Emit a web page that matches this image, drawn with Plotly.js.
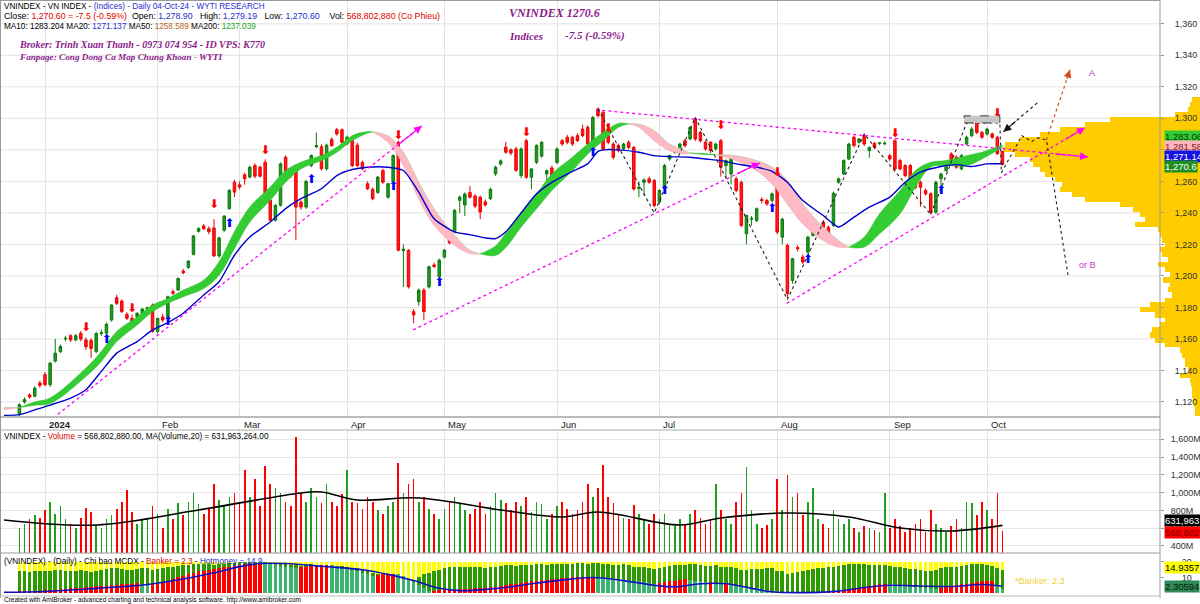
<!DOCTYPE html>
<html><head><meta charset="utf-8">
<script src="https://cdn.plot.ly/plotly-3.0.1.min.js"></script>
<style>html,body{margin:0;padding:0;background:#fff}#c{width:1200px;height:604px}</style>
</head><body><div id="c"></div><script>
// ---------------- DATA ----------------
const monthLabels = ['2024','Feb','Mar','Apr','May','Jun','Jul','Aug','Sep','Oct'];
const monthStart  = [5,27,43,64,83,105,125,148,170,189];

const openP = [1112.0,1120.0,1124.5,1123.6,1132.0,1137.3,1131.0,1146.0,1152.0,1160.0,
1162.1,1159.4,1163.6,1159.4,1159.0,1152.0,1163.5,1163.6,1172.0,1186.2,
1184.1,1175.6,1173.1,1174.0,1176.3,1177.0,1181.5,1164.7,1174.0,1174.0,
1190.0,1191.0,1203.0,1205.4,1213.6,1228.3,1231.7,1230.0,1230.4,1212.7,
1229.0,1242.7,1259.5,1257.8,1264.2,1262.7,1270.1,1269.0,1272.2,1248.0,
1235.3,1244.8,1275.3,1264.0,1266.9,1246.9,1243.7,1270.0,1282.0,1282.0,
1268.0,1286.5,1292.8,1292.8,1283.8,1286.0,1283.0,1272.0,1258.5,1255.0,
1253.0,1266.9,1250.0,1259.9,1284.8,1216.0,1216.3,1177.3,1183.6,1191.0,
1193.0,1207.0,1199.4,1212.0,1223.0,1228.0,1248.0,1245.0,1253.0,1250.7,
1250.0,1247.0,1249.0,1264.8,1271.0,1281.7,1280.0,1280.6,1263.7,1285.8,
1262.6,1272.1,1276.0,1264.7,1268.5,1272.0,1285.8,1288.0,1288.0,1289.0,
1293.2,1294.3,1283.7,1305.9,1303.9,1289.0,1283.7,1282.7,1280.6,1284.8,
1281.6,1255.5,1259.4,1261.6,1260.5,1246.8,1255.2,1274.2,1278.5,1281.6,
1285.8,1286.9,1299.6,1291.1,1284.8,1284.8,1280.6,1285.8,1270.0,1264.7,
1261.6,1259.4,1226.7,1236.0,1235.2,1248.5,1247.8,1247.8,1260.5,1224.6,
1219.3,1197.1,1218.0,1212.0,1215.1,1225.7,1228.8,1234.0,1230.9,1232.0,
1259.4,1264.7,1274.2,1288.0,1284.8,1289.0,1279.5,1284.2,1284.0,1283.8,
1276.3,1285.8,1273.2,1270.0,1270.0,1262.6,1259.4,1254.2,1252.1,1240.4,
1261.6,1266.8,1277.4,1275.3,1267.9,1283.7,1289.0,1297.5,1291.1,1290.1,
1290.1,1288.0,1278.9];
const highP = [1119.0,1123.0,1125.5,1130.0,1133.5,1139.0,1145.5,1160.0,1156.5,1162.0,
1163.0,1163.0,1165.0,1161.0,1160.5,1164.5,1166.0,1170.5,1182.0,1188.0,
1185.0,1177.0,1175.5,1176.8,1179.5,1180.5,1182.5,1173.5,1176.0,1187.5,
1191.5,1199.0,1204.5,1210.0,1226.0,1231.0,1233.0,1231.5,1236.0,1225.0,
1238.5,1255.0,1261.0,1260.0,1265.5,1270.0,1271.5,1270.0,1274.0,1249.0,
1245.5,1272.0,1276.5,1266.0,1268.0,1248.0,1261.0,1277.0,1291.0,1283.5,
1284.0,1288.0,1294.0,1293.5,1289.0,1287.5,1284.5,1273.0,1260.0,1256.0,
1263.5,1268.0,1259.0,1277.0,1286.0,1220.0,1217.0,1179.0,1192.0,1192.5,
1206.5,1208.5,1211.0,1217.0,1224.0,1242.5,1251.0,1253.0,1257.0,1252.0,
1251.0,1248.5,1256.0,1270.0,1274.0,1285.0,1281.0,1282.0,1281.5,1287.0,
1268.5,1283.5,1285.5,1267.5,1270.0,1281.5,1287.0,1289.5,1289.0,1290.5,
1296.0,1295.5,1301.5,1307.0,1305.0,1290.0,1285.0,1284.0,1284.5,1286.0,
1282.5,1260.0,1262.0,1263.0,1261.5,1255.0,1271.0,1277.0,1281.0,1284.5,
1287.0,1295.0,1300.8,1292.0,1286.0,1285.5,1284.5,1287.0,1274.0,1275.0,
1263.0,1260.5,1239.0,1238.0,1243.5,1250.0,1249.0,1253.0,1263.0,1237.0,
1220.5,1211.5,1219.5,1213.5,1225.5,1231.5,1231.5,1235.5,1232.0,1253.5,
1262.5,1274.0,1284.5,1289.0,1287.5,1290.0,1282.0,1285.0,1285.0,1285.5,
1277.5,1287.0,1274.5,1271.0,1271.0,1263.5,1260.5,1255.5,1253.0,1260.5,
1265.5,1272.0,1278.5,1276.5,1277.5,1289.0,1294.5,1298.5,1292.0,1294.0,
1291.0,1289.0,1279.19];
const lowP = [1110.5,1119.0,1122.0,1123.0,1129.0,1130.0,1129.5,1145.0,1151.0,1158.5,
1158.0,1158.5,1158.5,1153.0,1148.0,1151.0,1162.0,1162.5,1171.0,1181.5,
1176.5,1172.0,1170.0,1172.5,1175.5,1176.0,1164.0,1163.5,1170.5,1173.0,
1188.0,1190.5,1201.0,1204.5,1213.0,1227.5,1229.0,1226.5,1212.0,1211.5,
1228.0,1242.0,1250.0,1255.0,1258.0,1262.0,1262.0,1262.5,1247.0,1234.5,
1234.5,1244.0,1262.5,1262.0,1222.6,1242.0,1242.5,1269.0,1281.0,1267.0,
1267.0,1282.0,1289.0,1284.0,1283.0,1269.0,1269.0,1267.0,1254.5,1248.0,
1252.0,1258.5,1249.0,1259.0,1215.5,1193.0,1192.0,1170.0,1181.0,1172.0,
1192.0,1205.0,1198.0,1211.0,1220.0,1227.0,1240.0,1238.0,1249.0,1243.0,
1236.0,1244.0,1248.0,1263.5,1270.0,1277.5,1276.5,1266.0,1262.0,1261.5,
1255.0,1271.0,1275.0,1255.0,1260.0,1271.0,1282.5,1283.5,1282.5,1285.0,
1288.0,1282.5,1283.0,1300.5,1279.5,1283.5,1274.0,1278.5,1279.5,1280.5,
1254.0,1250.0,1251.0,1258.5,1243.5,1245.5,1254.5,1273.0,1277.5,1280.5,
1281.5,1286.0,1285.5,1284.5,1279.5,1278.0,1279.5,1263.0,1262.0,1258.0,
1253.0,1231.0,1220.0,1232.0,1234.0,1246.0,1244.5,1246.5,1226.5,1220.0,
1186.0,1195.0,1215.5,1207.5,1214.0,1225.0,1228.0,1230.0,1222.5,1231.0,
1258.5,1264.0,1273.5,1281.5,1284.0,1282.5,1275.0,1280.5,1283.0,1283.0,
1273.0,1266.5,1267.0,1262.5,1256.0,1255.0,1244.0,1251.0,1239.0,1239.5,
1257.0,1266.0,1272.0,1268.0,1267.0,1283.0,1288.0,1290.0,1287.0,1289.0,
1287.0,1277.0,1270.6];
const closeP = [1118.3,1121.5,1123.2,1128.8,1130.5,1131.0,1144.6,1151.0,1155.2,1160.4,
1159.4,1162.1,1160.0,1155.0,1154.0,1163.4,1164.0,1169.3,1181.5,1182.6,
1177.3,1173.1,1171.0,1176.3,1179.0,1179.8,1164.7,1173.0,1172.0,1186.8,
1189.0,1198.4,1202.0,1209.4,1225.4,1230.0,1230.0,1228.0,1212.7,1224.1,
1238.0,1254.3,1253.2,1256.4,1261.6,1269.0,1263.3,1263.3,1247.9,1235.3,
1244.8,1271.1,1263.7,1263.7,1243.7,1243.7,1259.9,1276.4,1282.7,1268.0,
1283.0,1282.7,1290.1,1284.8,1288.0,1270.0,1270.0,1268.0,1255.3,1249.0,
1262.7,1259.5,1258.5,1276.4,1216.3,1217.0,1193.1,1175.2,1191.0,1177.3,
1205.8,1206.0,1210.0,1216.3,1221.0,1241.6,1250.0,1252.0,1250.0,1244.3,
1240.6,1245.0,1254.9,1269.0,1273.0,1278.5,1278.0,1267.0,1280.6,1262.6,
1267.9,1282.7,1284.8,1266.8,1260.9,1280.6,1283.7,1284.8,1283.7,1285.8,
1289.0,1283.7,1300.6,1301.7,1280.6,1284.8,1275.3,1279.5,1283.7,1281.6,
1255.2,1256.3,1260.9,1259.4,1244.7,1254.2,1270.0,1276.3,1280.6,1283.7,
1282.7,1294.3,1286.9,1285.8,1280.6,1279.5,1283.7,1269.0,1273.2,1274.2,
1254.2,1232.0,1238.3,1236.5,1242.6,1247.8,1245.7,1252.1,1227.8,1236.0,
1188.7,1210.9,1217.2,1208.8,1224.6,1230.9,1230.9,1230.9,1223.5,1252.5,
1261.6,1273.2,1283.7,1282.7,1286.9,1283.7,1281.6,1281.6,1284.4,1284.2,
1274.2,1267.9,1267.9,1263.7,1257.3,1256.3,1256.3,1252.1,1240.4,1259.4,
1264.7,1271.1,1273.2,1269.0,1276.3,1288.0,1293.2,1291.1,1288.0,1293.2,
1288.0,1277.5,1270.6];

// MA20 (blue)
const ma20Idx = [-3,0,3,6,10,13,16,19,23,26,29,32,36,39,42,45,49,52,55,59,62,65,68,72,75,78,81,85,88,91,93,95,98,101,104,108,111,113,114,117,121,124,127,131,134,137,140,144,147,150,153,157,160,163,166,170,173,176,180,183,186,189,192];
const ma20Val = [1111.5,1112,1115,1118,1122.5,1127.8,1139.4,1151,1158.3,1165.7,1170.4,1176.3,1187.9,1196.3,1213.1,1224.7,1234.2,1242.7,1249,1255.3,1263.7,1267.5,1269,1269,1266.9,1253.2,1236.3,1227.9,1226.2,1224.1,1223.7,1228,1240,1252.1,1259.4,1266.4,1271.1,1279,1280,1280,1278.5,1276.3,1275.7,1275.3,1274.2,1273.2,1271.1,1269,1266.4,1259.4,1247.8,1238.3,1231,1237.3,1243.6,1250,1259.4,1265.8,1269.4,1270.6,1269.4,1271.1,1271.14];

// Band (two averages)
const bandIdx  = [-3,0,3,6,13,16,19,23,26,29,32,36,39,42,45,49,52,55,59,62,65,68,69,72,75,78,81,85,88,90,93,95,98,101,104,108,111,114,117,119,121,124,127,130,131,134,136,140,144,147,150,153,157,160,162,165,168,172,175,178,181,185,188,192];
const bandFast = [1115,1116.5,1120,1122.5,1141.5,1152,1164.7,1174,1181.5,1185.7,1191,1197.3,1209,1228,1243.7,1256.4,1266.9,1272.2,1276.4,1281.7,1289,1291.6,1291.4,1284.8,1270.1,1249,1232.1,1219.5,1214.2,1214,1219,1227,1240.4,1252,1264.7,1275.3,1283.7,1291,1296.8,1296.5,1294.3,1285.8,1279.5,1277.4,1278,1277.6,1277,1273.2,1266.8,1258.4,1245.7,1233,1222.5,1218.3,1218.3,1224.6,1239.4,1254.2,1266.8,1272.1,1273.2,1276.3,1278.5,1283.06];
const bandSlow = [1116.5,1116.5,1118,1119,1136.2,1145.7,1158.3,1168.9,1177.3,1182.6,1186.8,1192,1200.5,1217.4,1234.2,1248,1259.5,1268,1273.2,1278.5,1285.9,1290.6,1291.4,1289,1278.5,1259.5,1242.7,1225.8,1216.3,1214,1213,1218,1231,1242.6,1254.2,1266.8,1277.4,1285.8,1294.3,1296.5,1296.4,1292.2,1283.7,1279.5,1278,1277.0,1277,1276.3,1273.2,1269,1260.5,1245.7,1231,1222.5,1218.3,1218.3,1226.7,1239.4,1256.3,1269,1270,1270,1274.2,1281.58];

// Trend lines (index, price)
const trendX = [[6.6,78.6],[76.9,144.6],[112.7,208.7],[149.9,208.1]];
const trendY = [[1109.8,1295.2],[1165.7,1271.7],[1305.4,1275.5],[1182.6,1294.0]];
const waveX = [113,124,132,150,165,178,185,191.5,191.8,195.8,197.7,198.9,200.6,204.8];
const waveY = [1306,1240,1300.6,1185,1290,1239,1297,1297,1265.5,1289,1285.3,1287.6,1286.3,1200.6];
const waveAX = [200.6,205.2];
const waveAY = [1286.3,1330.8];
const pointerX = [198.8,192.2];
const pointerY = [1309.8,1291.5];
const boxX = [184.5,191.5];
const boxY = [1297.1,1301.6];

// Signals
const sigDnIdx = [13,22,38,48,74,99,115,137,148,171,191];
const sigDnVal = [1166.8,1179,1245.2,1279,1289,1290.5,1293,1295.4,1265.5,1290,1303];
const sigUpIdx = [17,29,41,57,73,82,112,126,147,154,180];
const sigUpVal = [1159.4,1170.6,1233.2,1261,1256.4,1195.2,1277.8,1254.2,1242.6,1209.8,1254.2];

// Volume profile (price level, relative volume)
const profPrice = [1311.7,1308.6,1305.4,1302.2,1299.0,1295.9,1292.7,1289.5,1286.3,1283.2,1280.0,1276.8,1273.6,1270.5,1267.3,1264.1,1260.9,1257.8,1254.6,1251.4,1248.2,1245.1,1241.9,1238.7,1235.5,1232.4,1229.2,1226.0,1222.8,1219.7,1216.5,1213.3,1210.1,1207.0,1203.8,1200.6,1197.4,1194.3,1191.1,1187.9,1184.7,1181.6,1178.4,1175.2,1172.0,1168.9,1165.7,1162.5,1159.3,1156.2,1153.0,1149.8,1146.6,1143.5,1140.3,1137.1,1133.9,1130.8,1127.6,1124.4,1121.2,1118.1,1114.9,1111.7];
const profVol = [8,10,12,25,90,115,140,160,180,195,197,185,170,167,160,155,145,138,140,128,115,80,67,60,55,65,42,40,38,35,40,38,32,42,35,30,37,30,32,28,35,50,60,45,35,40,48,50,45,35,20,18,15,15,12,20,10,9,8,8,7,6,5,5];

// Volume (millions)
const volM = [600,650,700,750,720,
800,900,760,850,700,650,600,720,830,780,640,600,700,750,820,900,1030,780,650,700,720,850,
760,600,820,700,880,750,900,1000,870,760,820,1100,920,860,950,1000,
900,1250,950,1150,850,1300,1100,1050,1000,900,850,1630,1000,900,1050,950,880,1100,900,850,980,
1250,900,880,820,950,900,800,760,850,900,1330,1000,1100,1150,900,950,820,760,700,
820,900,950,870,800,760,820,900,760,850,1000,920,880,800,900,850,950,780,900,870,700,760,
850,900,820,760,800,900,1100,950,1050,1310,950,880,760,720,700,860,760,700,650,760,
700,760,650,620,700,650,760,800,720,650,700,1100,800,700,650,900,1000,1290,800,650,600,640,700,
1150,800,1200,950,1000,750,900,1050,700,650,600,800,700,650,700,600,560,620,600,580,560,1000,
600,700,620,560,600,650,700,560,800,650,600,560,620,700,600,900,880,750,900,
800,700,1000,568.8];
const volMaIdx = [-3,15,35,55,59,66,78,94,106,113,129,137,150,162,172,182,192];
const volMaVal = [692,636,805,996,1007,917,940,805,726,782,636,715,771,726,602,569,632];

// MCDX
const banker = [1,1,1.2,1.5,1.5,1.8,2,2.2,2.5,2.8,
3,3.2,3.5,3.8,4,4.2,4.5,4.8,5,5.2,
5.5,5.8,6,6.2,5.8,5.5,5.5,6,7,8,
9,10,11,12,13,14,14.5,15,15.5,16,
16.5,17,17.5,18,18.5,19,19,19.2,19,18.5,
18,17.5,17,16.5,16,16.5,17,17.5,18,18,
18.2,18,17.5,17,16,15,14,13,12,11,
11.5,12,12,12.5,12,11,9,7,5,3,
1.5,1.5,1.8,2,2,2.2,2.5,2.5,2.8,3,
3,3.5,4,4,4.5,5,5.5,6,6.5,7,
7.5,8,8.5,8.5,9,9,9.5,9.5,10,10,
10.5,10.5,10.5,10.2,10,9.8,9.5,9.2,9,8.5,
8,7.5,7,6.5,6,6.5,7,7.5,8,8.5,
9,8.5,8,7.5,7,7,6.5,6,6,5.5,
5,4.5,4,3.5,3,2.5,2,1.5,1,0.8,
0.5,0.5,0.5,0.5,0.5,0.6,0.6,0.8,1,1.2,
1.5,2,2.5,3,3.5,4,4.5,5,5.5,6,
5.8,5.5,5,4.5,4,3.8,3.5,3.2,3,2.8,
3.2,4,4.5,5,5.5,6,6.5,7,7.5,7.7,
7.7,4.5,2.30594];
const hotMoney = [14,14,13.5,14,14.5,14,14,15,15,14.5,
14,14.5,15,14,13.5,14,15,15.5,16,16,
15.5,15,15,15.5,16,16,15,15.5,16,17,
17,17.5,18,18,18.5,19,19,18.5,18,18.5,
19,19.5,19.5,20,20,20,20,20,20,19.5,
19,19,18.5,18,18,17.5,18,18.5,18,17.5,
17.5,17,17,17.5,17,16,16,15.5,14,13,
12,11,10,9.5,8,7,7,8,10,12,
13,14,15,16,16.5,17,17,17,17,16.5,
16.5,16,16.5,17,17.5,18,18,17.5,18,18,
18,18.5,18.5,18,18.5,19,19,19,19,19.5,
19.5,19,19.5,19.5,19,18.5,18,18,18.5,18,
17,16.5,16.5,16,15.5,16,17,17.5,18,18,
18,18.5,18.5,18,17.5,17.5,18,17,17,17,
16,15,15,15.5,15.5,15.5,16,16,14,14,
12,13,13.5,14,15,15.5,16,16,16.5,17,
17.5,18,18.5,18.5,18.5,18.5,18,18,18,18,
17.5,17,16.5,16,15.5,15.5,15,14.5,14,15,
16,16.5,17,17,17.5,18,18.5,18.5,18.5,18,
17.5,16,14.9357];
const mcdxMaIdx = [-3,5,15,25,32,38,43,47,52,58,62,67,72,77,82,86,90,95,100,105,112,118,124,128,133,138,143,147,156,160,165,170,176,182,188,192];
const mcdxMaVal = [0.5,1,3,5.5,9,13,17,19,19,17.5,16.5,15,12,8,3,1.5,2,3.5,6,8,10,8,5,4,6,6,3,0.8,0.4,1.2,3.5,5,4.5,4.2,5.5,4.4];
const priceTicks = [1120,1140,1160,1180,1200,1220,1240,1260,1280,1300,1320,1340,1360];
const volTicks = [400,600,800,1000,1200,1400,1600];

// ---------------- LAYOUT HELPERS ----------------
const W = 1200, H = 604;
const PY = y => 1 - y / H;
const PX = x => x / W;
const idx = closeP.map((_, i) => i);
const xr = [(1 - 19.4) / 5.12, (1160 - 19.4) / 5.12];
const priceRange = [1111.1, 1375.1];
const FONT = 'Liberation Sans, Arial, sans-serif';
const SERIF = 'Liberation Serif, Times New Roman, serif';

const traces = [];
traces.push({type:'bar', orientation:'h', x: profVol, y: profPrice, width: 3.2,
  marker:{color:'#ffcc00', line:{width:0}}, xaxis:'x', yaxis:'y', hoverinfo:'skip', showlegend:false});

(function(){
  const segs = []; let cur = null;
  for (let k = 0; k < bandIdx.length; k++) {
    const d = bandFast[k] - bandSlow[k];
    const s = Math.abs(d) < 0.05 ? 0 : (d > 0 ? 1 : -1);
    if (!cur) { cur = {sign: s, pts: [k]}; continue; }
    if (s === 0) { cur.pts.push(k); segs.push(cur); cur = {sign: 0, pts: [k]}; }
    else if (cur.sign === 0 || cur.sign === s) { cur.sign = s; cur.pts.push(k); }
    else { segs.push(cur); cur = {sign: s, pts: [k - 1, k]}; }
  }
  if (cur && cur.pts.length > 1) segs.push(cur);
  segs.forEach(sg => {
    const xs = sg.pts.map(k => bandIdx[k]);
    const lo = sg.pts.map(k => Math.min(bandFast[k], bandSlow[k]));
    const hi = sg.pts.map(k => Math.max(bandFast[k], bandSlow[k]));
    const green = sg.sign >= 0;
    traces.push({type:'scatter', mode:'lines', x: xs, y: lo, line:{width:0.6, color: green ? '#2fbf2f' : '#e6a3ad', shape:'spline'},
      xaxis:'x2', yaxis:'y2', hoverinfo:'skip', showlegend:false});
    traces.push({type:'scatter', mode:'lines', x: xs, y: hi, fill:'tonexty', fillcolor: green ? '#33cc33' : '#ffb9c4',
      line:{width:0.6, color: green ? '#2fbf2f' : '#a5c79a', shape:'spline'},
      xaxis:'x2', yaxis:'y2', hoverinfo:'skip', showlegend:false});
  });
})();

traces.push({type:'scatter', mode:'lines', x: ma20Idx, y: ma20Val, line:{color:'#0000cc', width:1.4, shape:'spline', smoothing:0.6},
  xaxis:'x2', yaxis:'y2', hoverinfo:'skip', showlegend:false});

traces.push({type:'candlestick', x: idx, open: openP, high: highP, low: lowP, close: closeP,
  increasing:{line:{color:'#0b7a0b', width:1}, fillcolor:'#229922'},
  decreasing:{line:{color:'#ee0000', width:1}, fillcolor:'#ff1a1a'},
  whiskerwidth:0, xaxis:'x2', yaxis:'y2', hoverinfo:'skip', showlegend:false});

trendX.forEach((tx, k) => traces.push({type:'scatter', mode:'lines', x: tx, y: trendY[k],
  line:{color:'#ff00ff', width:1.3, dash:'dot'}, xaxis:'x2', yaxis:'y2', hoverinfo:'skip', showlegend:false}));
traces.push({type:'scatter', mode:'lines', x: waveX, y: waveY, line:{color:'#222', width:1.1, dash:'dot'},
  xaxis:'x2', yaxis:'y2', hoverinfo:'skip', showlegend:false});
traces.push({type:'scatter', mode:'lines', x: waveAX, y: waveAY, line:{color:'#d2501e', width:1.2, dash:'dot'},
  xaxis:'x2', yaxis:'y2', hoverinfo:'skip', showlegend:false});
traces.push({type:'scatter', mode:'lines', x: pointerX, y: pointerY, line:{color:'#222', width:1.2, dash:'dot'},
  xaxis:'x2', yaxis:'y2', hoverinfo:'skip', showlegend:false});

traces.push({type:'scatter', mode:'text', x: sigDnIdx, y: sigDnVal, text: sigDnIdx.map(() => '⬇'),
  textfont:{family:'DejaVu Sans', size:12, color:'#ff0000'}, xaxis:'x2', yaxis:'y2', hoverinfo:'skip', showlegend:false});
traces.push({type:'scatter', mode:'text', x: sigUpIdx, y: sigUpVal, text: sigUpIdx.map(() => '⬆'),
  textfont:{family:'DejaVu Sans', size:12, color:'#0000ff'}, xaxis:'x2', yaxis:'y2', hoverinfo:'skip', showlegend:false});

const volColors = closeP.map((c, i) => c >= openP[i] ? '#1f9f1f' : '#ff0000');
traces.push({type:'bar', x: idx, y: volM, width:0.32, marker:{color: volColors, line:{width:0}},
  xaxis:'x3', yaxis:'y3', hoverinfo:'skip', showlegend:false});
traces.push({type:'scatter', mode:'lines', x: volMaIdx, y: volMaVal, line:{color:'#000', width:1.6, shape:'spline'},
  xaxis:'x3', yaxis:'y3', hoverinfo:'skip', showlegend:false});

traces.push({type:'bar', x: idx, y: idx.map(() => 20), width:0.72, marker:{color:'#ffff00', line:{width:0}},
  xaxis:'x4', yaxis:'y4', hoverinfo:'skip', showlegend:false});
traces.push({type:'bar', x: idx, y: hotMoney, width:0.72, marker:{color:'#2f9a00', line:{width:0}},
  xaxis:'x4', yaxis:'y4', hoverinfo:'skip', showlegend:false});
const bankColors = banker.map((b, i) => (i === 0 || b >= banker[i - 1]) ? '#ff0000' : '#3cb371');
traces.push({type:'bar', x: idx, y: banker, width:0.72, marker:{color: bankColors, line:{width:0}},
  xaxis:'x4', yaxis:'y4', hoverinfo:'skip', showlegend:false});
traces.push({type:'scatter', mode:'lines', x: mcdxMaIdx, y: mcdxMaVal, line:{color:'#1010c0', width:1.6, shape:'spline'},
  xaxis:'x4', yaxis:'y4', hoverinfo:'skip', showlegend:false});

// ---------------- SHAPES ----------------
const shapes = [];
priceTicks.forEach(v => shapes.push({type:'line', xref:'paper', yref:'y', x0:PX(1), x1:PX(1160), y0:v, y1:v,
  line:{color:'#e3e3e3', width:1}, layer:'below'}));
const gl = {color:'#9a9a9a', width:1};
shapes.push({type:'line', xref:'paper', yref:'paper', x0:PX(1160), x1:PX(1160), y0:PY(598), y1:1, line:gl});
shapes.push({type:'line', xref:'paper', yref:'paper', x0:PX(0.5), x1:PX(0.5), y0:PY(598), y1:1, line:gl});
shapes.push({type:'line', xref:'paper', yref:'paper', x0:0, x1:PX(1160), y0:PY(0.5), y1:PY(0.5), line:gl});
shapes.push({type:'line', xref:'paper', yref:'paper', x0:0, x1:PX(1160), y0:PY(417), y1:PY(417), line:{color:'#777', width:1}});
shapes.push({type:'line', xref:'paper', yref:'paper', x0:0, x1:PX(1160), y0:PY(430), y1:PY(430), line:{color:'#aaa', width:1}});
shapes.push({type:'line', xref:'paper', yref:'paper', x0:0, x1:PX(1160), y0:PY(553), y1:PY(553), line:{color:'#999', width:1}});
shapes.push({type:'line', xref:'paper', yref:'paper', x0:0, x1:PX(1160), y0:PY(596), y1:PY(596), line:{color:'#bbb', width:1}});
shapes.push({type:'rect', xref:'x2', yref:'y2', x0:boxX[0], x1:boxX[1], y0:boxY[0], y1:boxY[1],
  fillcolor:'#c6c6c6', line:{color:'#444', width:1, dash:'dash'}, layer:'above'});

// ---------------- ANNOTATIONS ----------------
const ann = [];
const A = (o) => ann.push(Object.assign({showarrow:false, xref:'paper', yref:'paper', xanchor:'left', yanchor:'middle',
  font:{family:FONT, size:8.2, color:'#000'}}, o));
const sp = '&nbsp;&nbsp;&nbsp;';
A({x:PX(2), y:PY(6), text:'VNINDEX - VN INDEX - <span style="color:#2b2bd0">(Indices) - Daily 04-Oct-24 - WYTI RESEARCH</span>'});
A({x:PX(2), y:PY(16), font:{family:FONT, size:8.8, color:'#000'}, text:'Close: <span style="color:#e00000">1,270.60 = -7.5 (-0.59%)</span>&nbsp;&nbsp;Open: <span style="color:#2b2bd0">1,278.90</span>' + sp + 'High: <span style="color:#2b2bd0">1,279.19</span>' + sp + 'Low: <span style="color:#2b2bd0">1,270.60</span>' + sp + '&nbsp;Vol: <span style="color:#e00000">568,802,880 (Co Phieu)</span>'});
A({x:PX(2), y:PY(26), text:'MA10: 1283.204 MA20: <span style="color:#2b2bd0">1271.137</span> MA50: <span style="color:#b5651d">1258.589</span> MA200: <span style="color:#22a022">1237.039</span>'});
A({x:PX(17), y:PY(45), text:'<b><i>Broker: Trinh Xuan Thanh - 0973 074 954 - ID VPS: K770</i></b>', font:{family:SERIF, size:10, color:'#8b1a8b'}});
A({x:PX(17), y:PY(57), text:'<b><i>Fanpage: Cong Dong Ca Map Chung Khoan - WYTI</i></b>', font:{family:SERIF, size:9.2, color:'#8b1a8b'}});
A({x:PX(507), y:PY(13), text:'<b><i>VNINDEX 1270.6</i></b>', font:{family:SERIF, size:12, color:'#8b1a8b'}});
A({x:PX(507), y:PY(36), text:'<b><i>Indices</i></b>', font:{family:SERIF, size:11, color:'#8b1a8b'}});
A({x:PX(563), y:PY(36), text:'<b><i>-7.5 (-0.59%)</i></b>', font:{family:SERIF, size:11, color:'#8b1a8b'}});
monthLabels.forEach((m, k) => ann.push({showarrow:false, xref:'x2', yref:'paper', x:monthStart[k], y:PY(424), xanchor:'left', yanchor:'middle',
  xshift:2, text: k === 0 ? '<b>' + m + '</b>' : m, font:{family:FONT, size:9.5, color:'#222'}}));
A({x:PX(2), y:PY(436), text:'VNINDEX - <span style="color:#e00000">Volume</span> = 568,802,880.00, MA(Volume,20) = 631,963,264.00'});
A({x:PX(2), y:PY(561), text:'(VNINDEX) - (Daily) - Chi bao MCDX - <span style="color:#e00000">Banker = 2.3</span> - <span style="color:#2b2bd0">Hotmoney = 14.9</span>'});
A({x:PX(1013), y:PY(581), text:'*Banker: 2.3', font:{family:FONT, size:9, color:'#f0d040'}});
A({x:PX(2), y:PY(599.5), text:'Created with AmiBroker - advanced charting and technical analysis software. http://www.amibroker.com', font:{family:FONT, size:6.5, color:'#000'}});
ann.push({showarrow:false, xref:'x2', yref:'y2', x:209.5, y:1329, text:'A', font:{family:FONT, size:9, color:'#cc33cc'}});
ann.push({showarrow:false, xref:'x2', yref:'y2', x:206.5, y:1207, xanchor:'left', text:'or B', font:{family:FONT, size:9, color:'#cc33cc'}});
const head = (x, y, ax, ay, color) => ann.push({xref:'x2', yref:'y2', axref:'x2', ayref:'y2', x:x, y:y, ax:ax, ay:ay,
  showarrow:true, arrowhead:2, arrowsize:1.3, arrowwidth:1.2, arrowcolor:color, text:''});
trendX.forEach((tx, k) => {
  const t = 0.93;
  head(tx[1], trendY[k][1], tx[0] + (tx[1] - tx[0]) * t, trendY[k][0] + (trendY[k][1] - trendY[k][0]) * t, '#ff00ff');
});
head(waveAX[1], waveAY[1], waveAX[0] + (waveAX[1] - waveAX[0]) * 0.85, waveAY[0] + (waveAY[1] - waveAY[0]) * 0.85, '#d2501e');
head(pointerX[1], pointerY[1], pointerX[0] + (pointerX[1] - pointerX[0]) * 0.6, pointerY[0] + (pointerY[1] - pointerY[0]) * 0.6, '#111');
const tag = (y, text, bg, fc) => A({x:PX(1164), y:PY(y), text:text, bgcolor:bg, borderpad:0, font:{family:FONT, size:9.5, color:fc}});
tag(136, '1,283.06', '#33cc33', '#063806');
tag(146, '1,281.58', '#ffb6c1', '#7a1c1c');
tag(156, '1,271.14', '#1414e0', '#ffffff');
tag(166.5, '1,270.6', '#1f8f1f', '#ffffff');
tag(520, '631,963,2', '#000000', '#ffffff');
tag(532, '568,802,8', '#ff0000', '#7a0000');
tag(567, '14.9357', '#ffff00', '#000000');
tag(586, '2.30594', '#2e8b57', '#052005');

// ---------------- AXES ----------------
const xdom = [PX(1), PX(1160)];
const baseX = {showline:false, zeroline:false, showticklabels:false, ticks:'', fixedrange:true};
const tf = {family:FONT, size:9, color:'#333'};
const layout = {
  width: W, height: H, margin:{l:0, r:0, t:0, b:0}, paper_bgcolor:'#fff', plot_bgcolor:'rgba(0,0,0,0)',
  barmode:'overlay', bargap:0, showlegend:false, dragmode:false, font:{family:FONT},
  xaxis: Object.assign({}, baseX, {domain:[0, 1], range:[W, 0], anchor:'y', showgrid:false, visible:false}),
  yaxis: {domain:[PY(416), 1], range: priceRange, anchor:'x', visible:false, showgrid:false, fixedrange:true},
  xaxis2: Object.assign({}, baseX, {domain: xdom, range: xr, anchor:'y2', showgrid:true, gridcolor:'#e3e3e3', tickvals: monthStart, rangeslider:{visible:false}}),
  yaxis2: {domain:[PY(416), 1], range: priceRange, anchor:'free', position: PX(1160), side:'right', showgrid:false, zeroline:false,
    tickvals: priceTicks, tickformat:',d', ticks:'outside', ticklen:3, tickcolor:'#999', ticklabelstandoff:9,
    tickfont: tf, showline:false, fixedrange:true},
  xaxis3: Object.assign({}, baseX, {domain: xdom, matches:'x2', anchor:'y3', showgrid:true, gridcolor:'#e3e3e3', tickvals: monthStart}),
  yaxis3: {domain:[PY(553), PY(430)], range:[321, 1704], anchor:'free', position: PX(1160), side:'right', showgrid:true, gridcolor:'#e6e6e6', zeroline:false,
    tickvals: volTicks, ticktext: volTicks.map(v => v.toLocaleString('en-US') + 'M'), ticks:'outside', ticklen:3, tickcolor:'#999', ticklabelstandoff:5,
    tickfont: tf, fixedrange:true},
  xaxis4: Object.assign({}, baseX, {domain: xdom, matches:'x2', anchor:'y4', showgrid:true, gridcolor:'#ffffff', tickvals: monthStart}),
  yaxis4: {domain:[PY(595), PY(553)], range:[-1.3, 25.8], anchor:'free', position: PX(1160), side:'right', showgrid:false, zeroline:false,
    tickvals:[10,20], ticks:'outside', ticklen:3, tickcolor:'#999', ticklabelstandoff:16,
    tickfont: tf, fixedrange:true},
  shapes: shapes, annotations: ann
};
Plotly.newPlot('c', traces, layout, {staticPlot:true, displayModeBar:false});
</script></body></html>
